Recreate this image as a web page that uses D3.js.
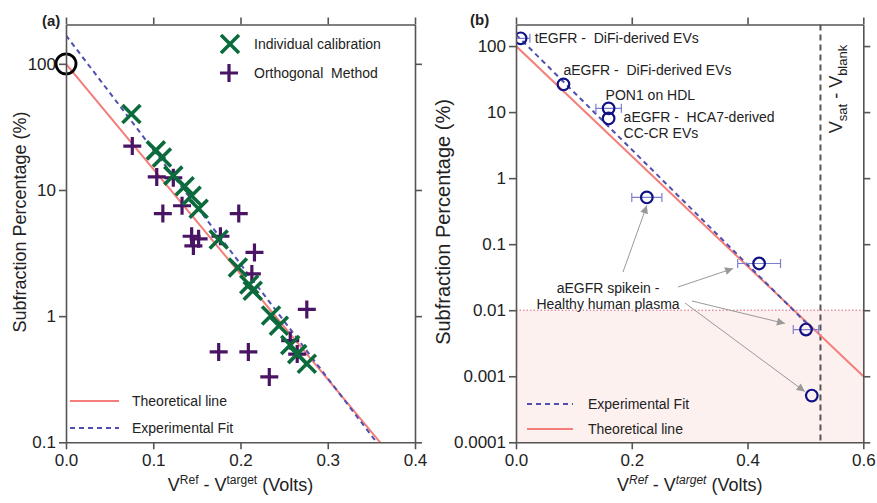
<!DOCTYPE html>
<html>
<head>
<meta charset="utf-8">
<script src="https://cdn.jsdelivr.net/npm/d3@7"></script>
<style>
body { margin: 0; background: #fff; }
text { font-family: "Liberation Sans", Arial, sans-serif; fill: #222; }
</style>
</head>
<body>
<div id="chart"></div>
<script>
// ---- panel (a) data
const calibV   = [0.075, 0.103, 0.110, 0.123, 0.136, 0.144, 0.152, 0.175, 0.197, 0.210, 0.214, 0.235, 0.244, 0.257, 0.265, 0.276];
const calibPct = [40, 20.6, 18.1, 13.0, 10.7, 9.0, 7.1, 4.05, 2.43, 1.78, 1.59, 1.01, 0.84, 0.59, 0.50, 0.42];
const orthoV   = [0.076, 0.104, 0.123, 0.111, 0.133, 0.198, 0.144, 0.152, 0.146, 0.177, 0.216, 0.213, 0.276, 0.175, 0.209, 0.233, 0.257, 0.265];
const orthoPct = [22.3, 12.7, 12.5, 6.5, 7.5, 6.5, 4.3, 4.1, 3.6, 4.3, 3.2, 2.16, 1.13, 0.52, 0.52, 0.33, 0.64, 0.50];
const theoryAV = [0, 0.36], theoryAPct = [100, 0.1];
const fitAV    = [0, 0.356], fitAPct   = [168, 0.1];
const xTicksA = [0, 0.1, 0.2, 0.3, 0.4];
const yTicksA = [0.1, 1, 10, 100];

// ---- panel (b) data
const sampleNames = ["tEGFR - DiFi", "aEGFR - DiFi", "PON1 on HDL", "aEGFR - HCA7", "spikein 1", "spikein 2", "spikein 3", "spikein 4"];
const sampleV   = [0.008, 0.082, 0.160, 0.160, 0.226, 0.420, 0.501, 0.511];
const samplePct = [131, 26.3, 11.4, 8.0, 0.51, 0.051, 0.0051, 0.00051];
const sampleErr = [0.016, 0, 0.022, 0, 0.026, 0.037, 0.022, 0];
const theoryBV = [0, 0.6], theoryBPct = [100, 0.001];
const fitBV    = [0, 0.515], fitBPct   = [149, 0.0049];
const vSatBlank = 0.526;
const detectLimit = 0.01;
const xTicksB = [0, 0.2, 0.4, 0.6];
const yTicksB = [0.0001, 0.001, 0.01, 0.1, 1, 10, 100];

const width = 877, height = 503;
const plotTop = 24.5, plotBottom = 442.3;
const red = "#f47f7a", blue = "#4f4fb0", green = "#0b6b3d", purple = "#4a1464", navy = "#111186", axisCol = "#555";

const svg = d3.select("#chart").append("svg")
    .attr("width", width)
    .attr("height", height);

const defs = svg.append("defs");
defs.append("marker")
    .attr("id", "arrow")
    .attr("viewBox", "0 0 10 10")
    .attr("refX", 10).attr("refY", 5)
    .attr("markerWidth", 11).attr("markerHeight", 8)
    .attr("markerUnits", "userSpaceOnUse")
    .attr("orient", "auto")
  .append("path")
    .attr("d", "M0,0 L10,5 L0,10 z")
    .attr("fill", "#999");

const xA = d3.scaleLinear().domain([0, 0.4]).range([66, 415]);
const yA = d3.scaleLog().domain([0.1, 205]).range([plotBottom, plotTop]);
const xB = d3.scaleLinear().domain([0, 0.6]).range([516, 863.3]);
const yB = d3.scaleLog().domain([0.0001, 212]).range([plotBottom, plotTop]);

function clip(id, x, y) {
  defs.append("clipPath").attr("id", id)
    .append("rect")
    .attr("x", x.range()[0]).attr("y", y.range()[1])
    .attr("width", x.range()[1] - x.range()[0])
    .attr("height", y.range()[0] - y.range()[1]);
}
clip("clipA", xA, yA);
clip("clipB", xB, yB);

function drawAxes(x, y, xTicks, yTicks, yFmt) {
  const g = svg.append("g");
  const x0 = x.range()[0], x1 = x.range()[1];
  g.append("g").attr("transform", "translate(0," + plotBottom + ")")
    .call(d3.axisBottom(x).tickValues(xTicks).tickFormat(d3.format(".1f")).tickSize(7).tickSizeOuter(0).tickPadding(5));
  g.append("g").attr("transform", "translate(0," + plotTop + ")")
    .call(d3.axisTop(x).tickValues(xTicks).tickFormat("").tickSize(7).tickSizeOuter(0));
  g.append("g").attr("transform", "translate(" + x0 + ",0)")
    .call(d3.axisLeft(y).tickValues(yTicks).tickFormat(yFmt).tickSize(7).tickSizeOuter(0).tickPadding(3));
  g.append("g").attr("transform", "translate(" + x1 + ",0)")
    .call(d3.axisRight(y).tickValues(yTicks).tickFormat("").tickSize(7).tickSizeOuter(0));
  g.selectAll("path.domain, line").attr("stroke", axisCol).attr("stroke-width", 1.6);
  g.selectAll("text").style("font-size", "17px").attr("fill", "#222");
  return g;
}

function pairs(v, p) { return v.map(function (d, i) { return [d, p[i]]; }); }

// ================= panel (a)
const la = d3.line().x(function (d) { return xA(d[0]); }).y(function (d) { return yA(d[1]); });
const pa = svg.append("g").attr("clip-path", "url(#clipA)");

pa.append("path").datum(pairs(theoryAV, theoryAPct))
    .attr("d", la).attr("fill", "none").attr("stroke", red).attr("stroke-width", 2);
pa.append("path").datum(pairs(fitAV, fitAPct))
    .attr("d", la).attr("fill", "none").attr("stroke", blue).attr("stroke-width", 2).attr("stroke-dasharray", "5,4");

const xMark = "M-9,-9L9,9M-9,9L9,-9";
const plusMark = "M-9,0L9,0M0,-9L0,9";

pa.selectAll(".ortho")
    .data(pairs(orthoV, orthoPct))
    .enter()
    .append("path")
    .attr("d", plusMark)
    .attr("transform", function (d) { return "translate(" + xA(d[0]) + "," + yA(d[1]) + ")"; })
    .attr("stroke", purple).attr("stroke-width", 3.2).attr("fill", "none");

pa.selectAll(".calib")
    .data(pairs(calibV, calibPct))
    .enter()
    .append("path")
    .attr("d", xMark)
    .attr("transform", function (d) { return "translate(" + xA(d[0]) + "," + yA(d[1]) + ")"; })
    .attr("stroke", green).attr("stroke-width", 3.6).attr("fill", "none");

svg.append("circle")
    .attr("cx", xA(0)).attr("cy", yA(100)).attr("r", 10)
    .attr("fill", "none").attr("stroke", "#000").attr("stroke-width", 2.8);

drawAxes(xA, yA, xTicksA, yTicksA, function (d) { return d3.format("~g")(d); });

// legend (a)
svg.append("path").attr("d", xMark).attr("transform", "translate(230,44)")
    .attr("stroke", green).attr("stroke-width", 3.6);
svg.append("text").attr("x", 254).attr("y", 49).style("font-size", "14px").text("Individual calibration");
svg.append("path").attr("d", plusMark).attr("transform", "translate(229,73)")
    .attr("stroke", purple).attr("stroke-width", 3.2);
svg.append("text").attr("x", 254).attr("y", 78).style("font-size", "14px").style("white-space", "pre").text("Orthogonal  Method");

svg.append("line").attr("x1", 70).attr("x2", 119).attr("y1", 401).attr("y2", 401)
    .attr("stroke", red).attr("stroke-width", 2);
svg.append("text").attr("x", 132).attr("y", 406).style("font-size", "14px").text("Theoretical line");
svg.append("line").attr("x1", 70).attr("x2", 119).attr("y1", 428).attr("y2", 428)
    .attr("stroke", blue).attr("stroke-width", 2).attr("stroke-dasharray", "5,4");
svg.append("text").attr("x", 132).attr("y", 433).style("font-size", "14px").text("Experimental Fit");

svg.append("text").attr("x", 42).attr("y", 26).style("font-size", "15px").style("font-weight", "bold").text("(a)");

svg.append("text")
    .attr("transform", "translate(26,222) rotate(-90)")
    .attr("text-anchor", "middle").style("font-size", "18px")
    .text("Subfraction Percentage (%)");

function xTitle(cx, italic) {
  const t = svg.append("text").attr("x", cx).attr("y", 491).attr("text-anchor", "middle").style("font-size", "18px");
  t.append("tspan").text("V");
  t.append("tspan").attr("dy", -7).style("font-size", "12px").style("font-style", italic ? "italic" : "normal").text("Ref");
  t.append("tspan").attr("dy", 7).text(" - V");
  t.append("tspan").attr("dy", -7).style("font-size", "12px").style("font-style", italic ? "italic" : "normal").text("target");
  t.append("tspan").attr("dy", 7).text(" (Volts)");
}
xTitle(240.5, false);

// ================= panel (b)
const lb = d3.line().x(function (d) { return xB(d[0]); }).y(function (d) { return yB(d[1]); });
const pb = svg.append("g").attr("clip-path", "url(#clipB)");

pb.append("rect")
    .attr("x", xB(0)).attr("y", yB(detectLimit))
    .attr("width", xB(0.6) - xB(0)).attr("height", yB(0.0001) - yB(detectLimit))
    .attr("fill", "#fdf1f0");
pb.append("line")
    .attr("x1", xB(0)).attr("x2", xB(0.6)).attr("y1", yB(detectLimit)).attr("y2", yB(detectLimit))
    .attr("stroke", "#e0607e").attr("stroke-width", 1).attr("stroke-dasharray", "1.5,2");
pb.append("line")
    .attr("x1", xB(vSatBlank)).attr("x2", xB(vSatBlank)).attr("y1", plotTop).attr("y2", plotBottom)
    .attr("stroke", "#555").attr("stroke-width", 2).attr("stroke-dasharray", "6,4");

pb.append("path").datum(pairs(theoryBV, theoryBPct))
    .attr("d", lb).attr("fill", "none").attr("stroke", red).attr("stroke-width", 2);
pb.append("path").datum(pairs(fitBV, fitBPct))
    .attr("d", lb).attr("fill", "none").attr("stroke", blue).attr("stroke-width", 2).attr("stroke-dasharray", "5,4");

const samples = sampleV.map(function (d, i) { return { name: sampleNames[i], v: d, p: samplePct[i], e: sampleErr[i] }; });
const errs = pb.selectAll(".err").data(samples.filter(function (d) { return d.e > 0; })).enter().append("g")
    .attr("stroke", "#7c7fd0").attr("stroke-width", 1.2);
errs.append("line")
    .attr("x1", function (d) { return xB(d.v - d.e); }).attr("x2", function (d) { return xB(d.v + d.e); })
    .attr("y1", function (d) { return yB(d.p); }).attr("y2", function (d) { return yB(d.p); });
errs.append("line")
    .attr("x1", function (d) { return xB(d.v - d.e); }).attr("x2", function (d) { return xB(d.v - d.e); })
    .attr("y1", function (d) { return yB(d.p) - 4.5; }).attr("y2", function (d) { return yB(d.p) + 4.5; });
errs.append("line")
    .attr("x1", function (d) { return xB(d.v + d.e); }).attr("x2", function (d) { return xB(d.v + d.e); })
    .attr("y1", function (d) { return yB(d.p) - 4.5; }).attr("y2", function (d) { return yB(d.p) + 4.5; });

pb.selectAll(".pt").data(samples).enter().append("circle")
    .attr("cx", function (d) { return xB(d.v); })
    .attr("cy", function (d) { return yB(d.p); })
    .attr("r", 5.8)
    .attr("fill", "none").attr("stroke", navy).attr("stroke-width", 2.2);

drawAxes(xB, yB, xTicksB, yTicksB, function (d) { return d3.format("~f")(d); });

// annotations
function note(i, dx, dy, txt) {
  svg.append("text")
      .attr("x", xB(sampleV[i]) + dx).attr("y", yB(samplePct[i]) + dy)
      .style("font-size", "14px").style("white-space", "pre")
      .text(txt);
}
note(0, 14, 5, "tEGFR -  DiFi-derived EVs");
note(1, 0, -9, "aEGFR -  DiFi-derived EVs");
note(2, -3, -8, "PON1 on HDL");
note(3, 15, 4, "aEGFR -  HCA7-derived");
note(3, 15, 20, "CC-CR EVs");

const spikeX = 608, spikeY = 296;
svg.append("text").attr("x", spikeX).attr("y", spikeY - 3).attr("text-anchor", "middle")
    .style("font-size", "14px").text("aEGFR spikein -");
svg.append("text").attr("x", spikeX).attr("y", spikeY + 13).attr("text-anchor", "middle")
    .style("font-size", "14px").text("Healthy human plasma");

const arrows = [
  { i: 4, from: [15, -24], to: [0, 8] },
  { i: 5, from: [70, -9], to: [-26, 5] },
  { i: 6, from: [84, 5], to: [-21, -6] },
  { i: 7, from: [77, 7], to: [-7, -4] }
];
svg.selectAll(".arrow").data(arrows).enter().append("line")
    .attr("x1", function (d) { return spikeX + d.from[0]; })
    .attr("y1", function (d) { return spikeY + d.from[1]; })
    .attr("x2", function (d) { return xB(sampleV[d.i]) + d.to[0]; })
    .attr("y2", function (d) { return yB(samplePct[d.i]) + d.to[1]; })
    .attr("stroke", "#999").attr("stroke-width", 1)
    .attr("marker-end", "url(#arrow)");

// Vsat - Vblank label
const vs = svg.append("text")
    .attr("transform", "translate(842," + 89 + ") rotate(-90)")
    .attr("text-anchor", "middle").style("font-size", "18px");
vs.append("tspan").text("V");
vs.append("tspan").attr("dy", 5).style("font-size", "13px").text("sat");
vs.append("tspan").attr("dy", -5).text(" - V");
vs.append("tspan").attr("dy", 5).style("font-size", "13px").text("blank");

// legend (b)
svg.append("line").attr("x1", 527).attr("x2", 573).attr("y1", 404).attr("y2", 404)
    .attr("stroke", blue).attr("stroke-width", 2).attr("stroke-dasharray", "5,4");
svg.append("text").attr("x", 588).attr("y", 409).style("font-size", "14px").text("Experimental Fit");
svg.append("line").attr("x1", 527).attr("x2", 573).attr("y1", 429).attr("y2", 429)
    .attr("stroke", red).attr("stroke-width", 2);
svg.append("text").attr("x", 588).attr("y", 434).style("font-size", "14px").text("Theoretical line");

svg.append("text").attr("x", 470).attr("y", 25).style("font-size", "15px").style("font-weight", "bold").text("(b)");

svg.append("text")
    .attr("transform", "translate(450,222) rotate(-90)")
    .attr("text-anchor", "middle").style("font-size", "20px")
    .text("Subfraction Percentage (%)");

xTitle(689.7, true);
</script>
</body>
</html>
